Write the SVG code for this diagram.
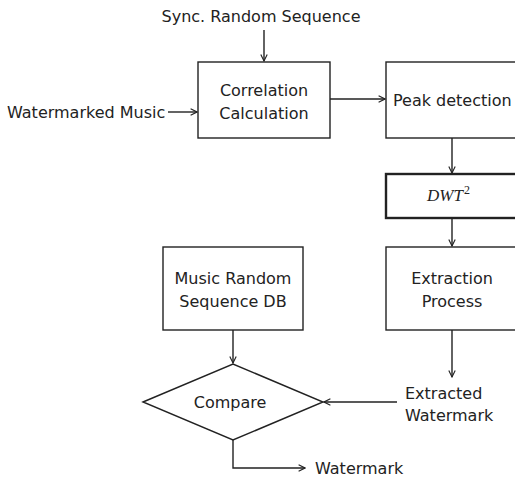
<svg xmlns="http://www.w3.org/2000/svg" width="515" height="481" viewBox="0 0 515 481">
<style>
text{font-family:"DejaVu Sans",Verdana,sans-serif;font-size:16px;fill:#222}
.box{fill:#fff;stroke:#222;stroke-width:1.4}
.bold{stroke-width:2.4}
.c{fill:none;stroke:#222;stroke-width:1.4}
.m{text-anchor:middle}
</style>
<defs>
<marker id="a" viewBox="0 0 10 10" refX="9" refY="5" markerWidth="8" markerHeight="8" orient="auto" markerUnits="userSpaceOnUse">
<path d="M1,1 L9,5 L1,9" fill="none" stroke="#222" stroke-width="1.4"/>
</marker>
</defs>
<rect width="515" height="481" fill="#fff"/>
<g id="connectors">
<line class="c" x1="264" y1="30" x2="264" y2="61" marker-end="url(#a)"/>
<line class="c" x1="168" y1="112" x2="197" y2="112" marker-end="url(#a)"/>
<line class="c" x1="330" y1="99" x2="385" y2="99" marker-end="url(#a)"/>
<line class="c" x1="452" y1="138" x2="452" y2="173" marker-end="url(#a)"/>
<line class="c" x1="452" y1="218" x2="452" y2="246" marker-end="url(#a)"/>
<line class="c" x1="452" y1="330" x2="452" y2="377" marker-end="url(#a)"/>
<line class="c" x1="233" y1="330" x2="233" y2="363" marker-end="url(#a)"/>
<line class="c" x1="397" y1="402" x2="324" y2="402" marker-end="url(#a)"/>
<polyline class="c" points="233,440 233,468 305,468" marker-end="url(#a)"/>
</g>
<g id="sync"><text class="m" x="261" y="22">Sync. Random Sequence</text></g>
<g id="input"><text x="7" y="118">Watermarked Music</text></g>
<g id="correlation">
<rect class="box" x="198" y="62" width="132" height="76"/>
<text class="m" x="264" y="96">Correlation</text>
<text class="m" x="264" y="119">Calculation</text>
</g>
<g id="peak">
<rect class="box" x="386" y="62" width="136" height="76"/>
<text x="393" y="106">Peak detection</text>
</g>
<g id="dwt">
<rect class="box bold" x="386" y="174" width="136" height="44"/>
<text x="427" y="201" style="font-family:'Liberation Serif','Times New Roman',serif;font-style:italic;font-size:17px">DWT<tspan dx="1" dy="-7" font-size="12" font-style="normal">2</tspan></text>
</g>
<g id="extraction">
<rect class="box" x="386" y="247" width="136" height="83"/>
<text class="m" x="452" y="284">Extraction</text>
<text class="m" x="452" y="307">Process</text>
</g>
<g id="db">
<rect class="box" x="163" y="247" width="140" height="83"/>
<text class="m" x="233" y="284">Music Random</text>
<text class="m" x="233" y="307">Sequence DB</text>
</g>
<g id="compare">
<polygon class="box" points="143,402 233,364 323,402 233,440"/>
<text class="m" x="230" y="408">Compare</text>
</g>
<g id="extracted">
<text x="405" y="399">Extracted</text>
<text x="405" y="421">Watermark</text>
</g>
<g id="output"><text x="315" y="474">Watermark</text></g>
</svg>
